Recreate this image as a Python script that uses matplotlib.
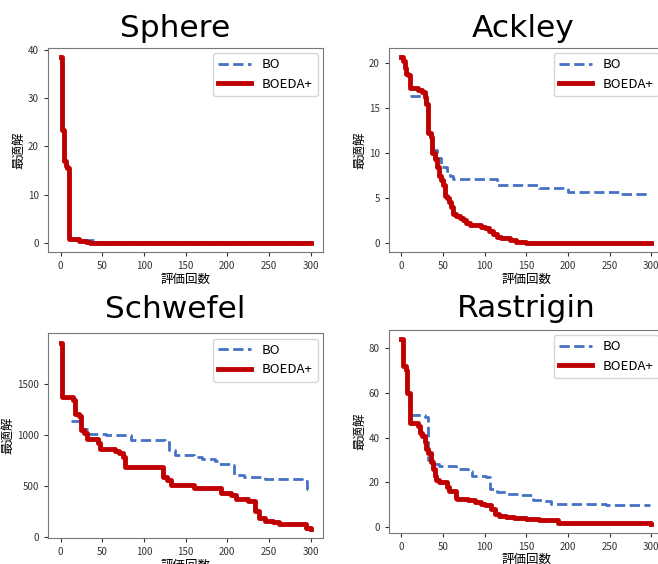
import matplotlib.pyplot as plt

plt.rcParams['font.family'] = ['Noto Sans CJK JP', 'DejaVu Sans']

# Sphere
sph_bo_x = [10, 40, 150, 300]
sph_bo_y = [0.5, 0.2, 0.1, 0.1]
sph_ed_x = [0, 2, 4, 6, 8, 10, 18, 22, 30, 35, 300]
sph_ed_y = [38.5, 23.5, 17, 16, 15.5, 0.8, 0.7, 0.4, 0.15, 0.05, 0.0]
sph_yticks = [0, 10, 20, 30, 40]

# Ackley
ack_bo_x = [10, 28, 32, 35, 38, 43, 48, 55, 58, 62, 115, 165, 200, 262, 296]
ack_bo_y = [16.4, 15.5, 12.0, 11.0, 10.3, 9.5, 8.5, 8.0, 7.5, 7.1, 6.5, 6.1, 5.7, 5.4, 5.4]
ack_ed_x = [0, 2, 4, 5, 8, 10, 20, 25, 28, 30, 32, 35, 37, 40, 43, 45, 48, 50, 52, 55, 57,
            60, 62, 66, 70, 74, 78, 82, 95, 100, 105, 110, 115, 120, 130, 138, 150, 300]
ack_ed_y = [20.7, 20.3, 19.5, 18.8, 18.7, 17.3, 17.0, 16.8, 16.3, 15.5, 12.2, 11.8, 10.0, 9.3,
            8.5, 7.5, 7.0, 6.5, 5.2, 5.0, 4.5, 4.0, 3.2, 3.0, 2.8, 2.5, 2.2, 2.0, 1.8, 1.6,
            1.3, 1.0, 0.6, 0.5, 0.3, 0.1, 0.02, 0.0]
ack_yticks = [0, 5, 10, 15, 20]

# Schwefel
sch_bo_x = [12, 25, 33, 55, 85, 125, 130, 137, 160, 170, 185, 190, 205, 208, 220, 245, 290, 296, 297]
sch_bo_y = [1130, 1060, 1010, 1000, 950, 930, 850, 800, 780, 760, 740, 710, 700, 610, 590, 570,
            550, 470, 470]
sch_ed_x = [0, 2, 15, 17, 22, 24, 28, 32, 45, 47, 65, 70, 75, 77, 123, 128, 132, 160, 193, 205,
            210, 225, 233, 238, 245, 255, 262, 295, 300]
sch_ed_y = [1900, 1370, 1340, 1200, 1180, 1050, 1020, 960, 920, 860, 840, 820, 780, 680, 585,
            560, 510, 480, 430, 410, 373, 350, 250, 190, 160, 150, 130, 90, 80]
sch_yticks = [0, 500, 1000, 1500]

# Rastrigin
ras_bo_x = [10, 28, 32, 38, 45, 65, 80, 85, 102, 106, 115, 125, 140, 158, 170, 180, 245, 298]
ras_bo_y = [50, 49, 30, 28, 27.5, 26, 25, 23, 22.5, 17, 15.5, 15, 14.5, 12, 11.5, 10.5, 10, 10]
ras_ed_x = [0, 2, 5, 7, 10, 20, 22, 25, 28, 30, 32, 35, 38, 40, 42, 45, 55, 57, 65, 67, 80, 88,
            95, 100, 108, 112, 117, 125, 135, 150, 165, 188, 225, 300]
ras_ed_y = [84, 72, 70, 60, 46.5, 45, 42, 40.5, 38, 35, 33, 29, 26, 23, 21, 20, 18, 16, 13, 12.5,
            12, 11, 10.5, 10, 8, 6, 5, 4.5, 4, 3.5, 3, 2, 1.7, 1.5]
ras_yticks = [0, 20, 40, 60, 80]

titles = ["Sphere", "Ackley", "Schwefel", "Rastrigin"]
panels = [
    (sph_bo_x, sph_bo_y, sph_ed_x, sph_ed_y, sph_yticks),
    (ack_bo_x, ack_bo_y, ack_ed_x, ack_ed_y, ack_yticks),
    (sch_bo_x, sch_bo_y, sch_ed_x, sch_ed_y, sch_yticks),
    (ras_bo_x, ras_bo_y, ras_ed_x, ras_ed_y, ras_yticks),
]
# axes rectangles (figure fraction) and title positions (baseline)
rects = [
    [0.073, 0.553, 0.418, 0.362],
    [0.591, 0.553, 0.418, 0.362],
    [0.073, 0.046, 0.418, 0.363],
    [0.591, 0.055, 0.418, 0.360],
]
title_pos = [(0.266, 0.934), (0.795, 0.934), (0.267, 0.436), (0.800, 0.438)]

fig = plt.figure(figsize=(6.58, 5.64), dpi=100)

for i in range(4):
    bx, by, ex, ey, yt = panels[i]
    ax = fig.add_axes(rects[i])
    ax.plot(bx, by, drawstyle='steps-post', color='#4472C4', lw=2, ls='--', label='BO')
    ax.plot(ex, ey, drawstyle='steps-post', color='#C00000', lw=3.5, label='BOEDA+')
    ax.set_xticks([0, 50, 100, 150, 200, 250, 300])
    ax.set_yticks(yt)
    ax.tick_params(labelsize=7, colors='#333333', length=3)
    for s in ax.spines.values():
        s.set_color('#777777')
    ax.set_xlabel('評価回数', fontsize=9, labelpad=1)
    ax.set_ylabel('最適解', fontsize=9, labelpad=2)
    ax.legend(loc='upper right', fontsize=9.5, handlelength=2.5, borderaxespad=0.4)
    fig.text(title_pos[i][0], title_pos[i][1], titles[i], fontsize=22.5,
             ha='center', va='baseline', family='DejaVu Sans')

fig.savefig('out.png', dpi=100)
